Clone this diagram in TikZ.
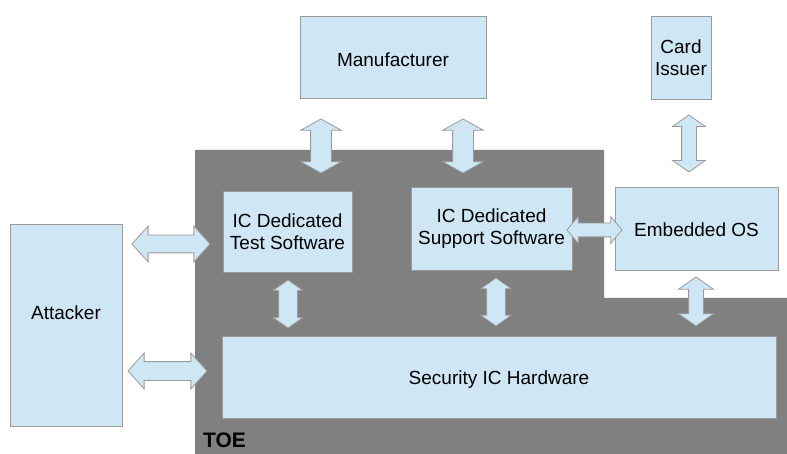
\documentclass[tikz,border=0pt]{standalone}
\usepackage{fontspec}
\setmainfont{Liberation Sans}
\usetikzlibrary{shapes.arrows}
\definecolor{boxfill}{HTML}{CFE7F5}
\definecolor{boxline}{HTML}{9A9A9A}
\definecolor{toegray}{HTML}{808080}
\begin{document}
\begin{tikzpicture}[x=1pt,y=-1pt,
  box/.style={draw=boxline, line width=0.8pt, fill=boxfill, inner sep=0pt, align=center,
    font=\fontsize{19}{22}\selectfont},
  lbl/.style={inner sep=0pt, align=center, font=\fontsize{19}{22}\selectfont},
  dbl/.style={shape=double arrow, draw=boxline, line width=0.8pt, fill=boxfill, inner xsep=0pt},
  % length / shaft width / head width / tip angle
  dblsz/.style n args={4}{minimum height=#1, inner ysep=#2/2, minimum width=#3,
    double arrow head extend={(#3-#2)/2}, double arrow tip angle=#4}]
\useasboundingbox (0,0) rectangle (787,454);
% TOE region
\fill[toegray] (195,150) -- (604,150) -- (604,298) -- (787,298) -- (787,454) -- (195,454) -- cycle;
\node[anchor=base west, inner sep=0pt, font=\fontsize{21}{22}\selectfont\bfseries] (toe) at (203,447) {TOE};
% boxes
\node[box, minimum width=186, minimum height=82] (mfr) at (393,57) {};
\node[lbl] (mfrlbl) at (393,59.5) {Manufacturer};
\node[box, minimum width=60, minimum height=83] (card) at (681,57.5) {Card\\Issuer};
\node[box, minimum width=112, minimum height=202] (att) at (66,325) {};
\node[lbl] (attlbl) at (66,313) {Attacker};
\node[box, minimum width=129, minimum height=81] (test) at (287.5,231.5) {IC Dedicated\\Test Software};
\node[box, minimum width=161, minimum height=83] (supp) at (491.5,228.5) {IC Dedicated\\Support Software};
\node[box, minimum width=163, minimum height=83] (os) at (696.5,228.5) {};
\node[lbl] (oslbl) at (696.5,230) {Embedded OS};
\node[box, minimum width=554, minimum height=82] (hw) at (499,377) {};
\node[lbl] (hwlbl) at (499,379.5) {Security IC Hardware};
% double arrows
\node[dbl, rotate=90, dblsz={54}{20}{40}{122}] (a1) at (321,146) {};
\node[dbl, rotate=90, dblsz={54}{20}{40}{122}] (a2) at (463,146) {};
\node[dbl, rotate=90, dblsz={57}{14}{32}{110}] (a3) at (689,143.5) {};
\node[dbl, dblsz={78}{17}{35}{96}] (a4) at (171,244) {};
\node[dbl, dblsz={79}{18}{35}{96}] (a5) at (167.5,371) {};
\node[dbl, dblsz={55}{13}{26}{100}] (a6) at (594.5,230) {};
\node[dbl, rotate=90, dblsz={48}{18}{29}{110}] (a7) at (288,304) {};
\node[dbl, rotate=90, dblsz={48}{18}{30}{110}] (a8) at (496,302) {};
\node[dbl, rotate=90, dblsz={49}{14}{34}{110}] (a9) at (696,301.5) {};
\end{tikzpicture}
\end{document}
